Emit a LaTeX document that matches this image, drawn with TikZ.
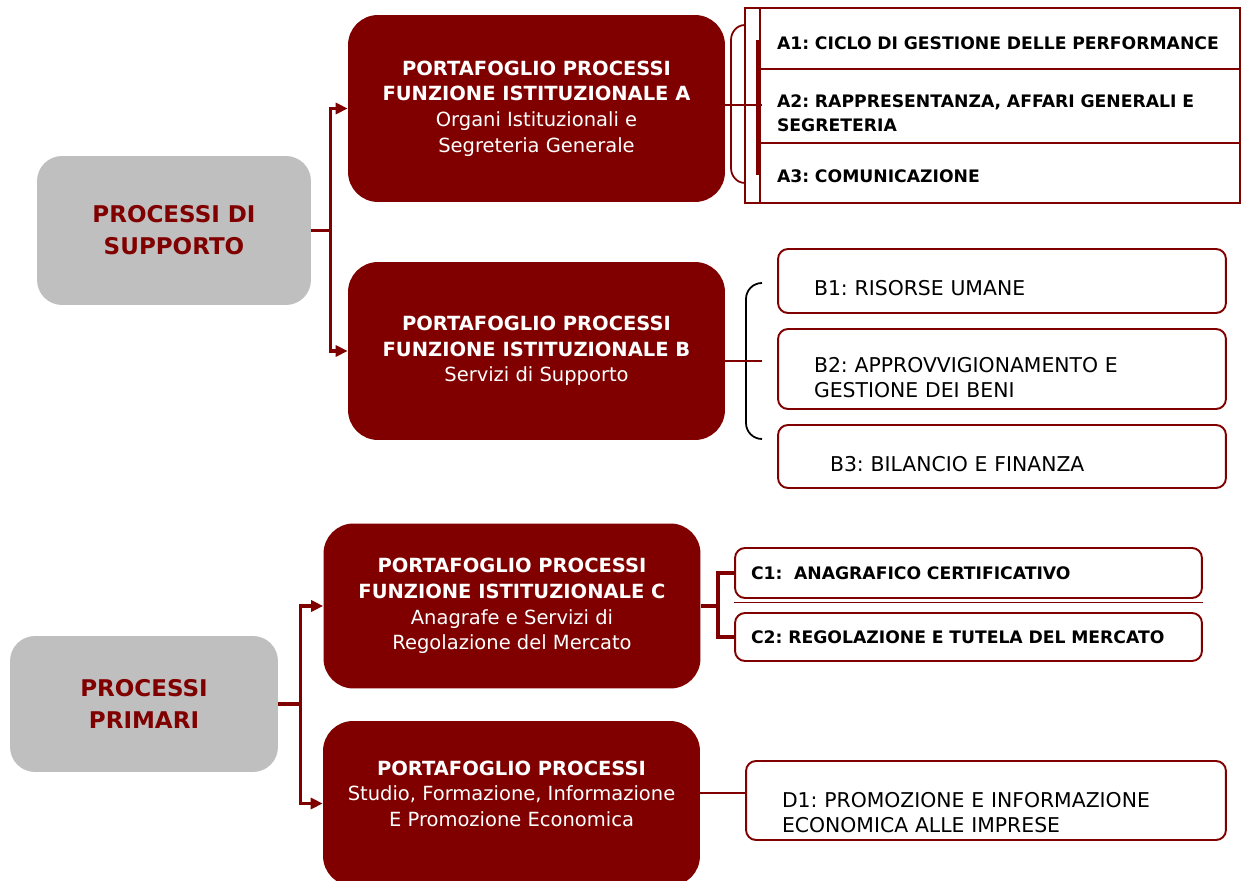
\documentclass[tikz,border=0pt]{standalone}
\usepackage{fontspec}
\setmainfont{DejaVu Sans}
\frenchspacing
\usetikzlibrary{arrows.meta, positioning, calc}
\definecolor{cciaared}{RGB}{128,0,0}
\definecolor{cciaagrey}{RGB}{191,191,191}
\tikzset{
  macro/.style     = {fill=cciaagrey, rounded corners=0.5cm, align=center,
                      text=cciaared, font=\fontsize{13.1}{18.2}\selectfont\bfseries},
  portfolio/.style = {fill=cciaared, rounded corners=0.6cm, align=center, text=white,
                      minimum width=7.54cm, font=\fontsize{11.1}{14.6}\selectfont},
  rowbox/.style    = {draw=cciaared, line width=1.1pt, align=left, inner ysep=0pt,
                      font=\fontsize{9.8}{13.6}\selectfont\bfseries},
  subbox/.style    = {draw=cciaared, line width=1.1pt, rounded corners=0.2cm, align=left,
                      inner ysep=0pt, font=\fontsize{11.6}{14.2}\selectfont},
  oneline/.style   = {text height=#1, text depth=0pt},
  link/.style      = {-{Triangle[length=2.4mm, width=2.2mm]}, line width=2pt, color=cciaared},
  stem/.style      = {line width=2pt, color=cciaared},
  thinlink/.style  = {line width=1pt, color=cciaared},
}
\begin{document}
\begin{tikzpicture}[x=0.02cm, y=-0.02cm]
  \useasboundingbox (0,0) rectangle (1242,881);
  \node[macro, minimum width=5.48cm, minimum height=2.98cm] (supp) at (174,230.5) {PROCESSI DI\\SUPPORTO};
  \node[macro, minimum width=5.36cm, minimum height=2.72cm] (prim) at (144,704) {PROCESSI\\PRIMARI};
  \node[portfolio, minimum height=3.74cm] (pA) at (536.5,108.5)
    {\textbf{PORTAFOGLIO PROCESSI}\\\textbf{FUNZIONE ISTITUZIONALE A}\\Organi Istituzionali e\\Segreteria Generale};
  \node[portfolio, minimum height=3.56cm] (pB) at (536.5,351)
    {\textbf{PORTAFOGLIO PROCESSI}\\\textbf{FUNZIONE ISTITUZIONALE B}\\Servizi di Supporto};
  \node[portfolio, minimum height=3.3cm] (pC) at (512,606)
    {\textbf{PORTAFOGLIO PROCESSI}\\\textbf{FUNZIONE ISTITUZIONALE C}\\Anagrafe e Servizi di\\Regolazione del Mercato};
  \node[portfolio, minimum height=3.3cm] (pD) at (511.5,803.5)
    {\textbf{PORTAFOGLIO PROCESSI}\\Studio, Formazione, Informazione\\E Promozione Economica\\[-0.11cm]\mbox{}};
  \draw[link] (supp.east) -- ++(19,0) |- (pA.west);
  \draw[link] (supp.east) -- ++(19,0) |- (pB.west);
  \draw[link] (prim.east) -- ++(22,0) |- (pC.west);
  \draw[link] (prim.east) -- ++(22,0) |- (pD.west);
  \draw[cciaared, line width=1.1pt] (745,8) rectangle (1240,203);
  \node[rowbox, oneline=0.45cm, text width=8.92cm, inner xsep=0.34cm, minimum height=1.22cm] (a1) at (1000,38.5)
    {A1: CICLO DI GESTIONE DELLE PERFORMANCE};
  \node[rowbox, text width=8.92cm, inner xsep=0.34cm, minimum height=1.48cm] (a2) at (1000,106)
    {\\[0.08cm]A2: RAPPRESENTANZA, AFFARI GENERALI E\\SEGRETERIA};
  \node[rowbox, oneline=0.4cm, text width=8.92cm, inner xsep=0.34cm, minimum height=1.2cm] (a3) at (1000,173)
    {A3: COMUNICAZIONE};
  \coordinate (amid) at (762,105);
  \draw[cciaared, line width=2.6pt] (758,40) -- (758,175);
  \draw[thinlink] (745,25) to[out=180, in=90] (731,40) -- (731,168) to[out=-90, in=180] (745,183);
  \draw[thinlink] (amid -| pA.east) -- (amid);
  \node[subbox, oneline=0.6cm, text width=7.52cm, inner xsep=0.72cm, minimum height=1.28cm] (b1) at (1002,281)
    {B1: RISORSE UMANE};
  \node[subbox, text width=7.52cm, inner xsep=0.72cm, minimum height=1.6cm] (b2) at (1002,369)
    {\\[0.16cm]B2: APPROVVIGIONAMENTO E\\GESTIONE DEI BENI};
  \node[subbox, oneline=0.6cm, text width=6.88cm, inner xsep=1.04cm, minimum height=1.26cm] (b3) at (1002,456.5)
    {B3: BILANCIO E FINANZA};
  \coordinate (bmid) at (762,361);
  \draw[line width=1pt] (762,283) to[out=180, in=90] (746,299) -- (746,423) to[out=-90, in=180] (762,439);
  \draw[thinlink] (bmid -| pB.east) -- (bmid);
  \node[rowbox, rounded corners=0.2cm, text width=8.7cm, inner xsep=0.32cm, minimum height=1cm] (c1) at (968.5,573)
    {C1:~~ANAGRAFICO CERTIFICATIVO};
  \node[rowbox, rounded corners=0.2cm, text width=8.7cm, inner xsep=0.32cm, minimum height=0.96cm] (c2) at (968.5,637)
    {C2: REGOLAZIONE E TUTELA DEL MERCATO};
  \draw[cciaared, line width=0.6pt] ([yshift=-0.08cm]c1.south west) -- ([yshift=-0.08cm]c1.south east);
  \draw[stem] (pC.east) -- ++(17,0) |- (c1.west);
  \draw[stem] (pC.east) -- ++(17,0) |- (c2.west);
  \node[subbox, text width=8.16cm, inner xsep=0.72cm, minimum height=1.58cm] (d1) at (986,800.5)
    {\\[0.28cm]D1: PROMOZIONE E INFORMAZIONE\\ECONOMICA ALLE IMPRESE};
  \coordinate (dmid) at (746,793);
  \draw[thinlink] (dmid -| pD.east) -- (dmid);
\end{tikzpicture}
\end{document}
